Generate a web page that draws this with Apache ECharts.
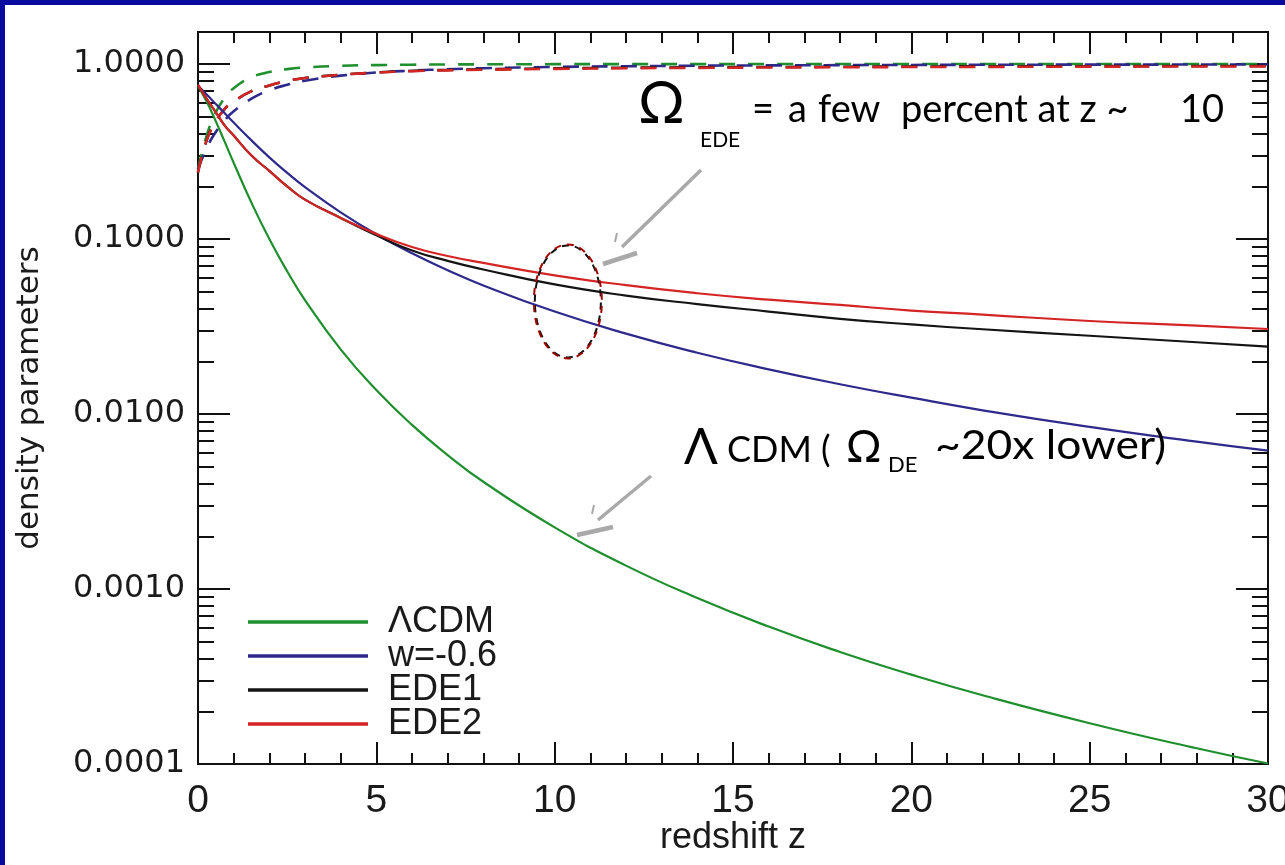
<!DOCTYPE html>
<html>
<head>
<meta charset="utf-8">
<script src="https://cdn.jsdelivr.net/npm/echarts@6/dist/echarts.min.js"></script>
<style>
  html, body { margin: 0; padding: 0; width: 1285px; height: 865px; background: #0a0a9e; overflow: hidden; }
  #panel { position: absolute; left: 5px; top: 5px; width: 1280px; height: 860px; background: #ffffff; }
  #chart { position: absolute; left: 0; top: 0; width: 1285px; height: 865px; }
</style>
</head>
<body>
<div id="panel"></div>
<div id="chart"></div>
<script>
// redshift sample points
const redshift = [0, 0.25, 0.5, 0.75, 1, 1.5, 2, 2.5, 3, 4, 5, 6, 7, 8, 10, 12, 14, 16, 18, 20, 22, 25, 28, 30];

// dark energy density parameter (solid curves)
const deLcdm = [0.75, 0.606, 0.470, 0.359, 0.273, 0.161, 0.100, 0.0654, 0.0448, 0.0234, 0.0137, 0.00867, 0.00583, 0.00410, 0.00225, 0.00136, 0.000888, 0.000610, 0.000437, 0.000324, 0.000247, 0.000171, 0.000123, 0.0001007];
const deW06 = [0.75, 0.667, 0.591, 0.523, 0.463, 0.366, 0.293, 0.239, 0.198, 0.142, 0.1065, 0.0829, 0.0664, 0.0543, 0.0385, 0.0288, 0.0224, 0.0180, 0.0148, 0.0124, 0.0105, 0.00844, 0.00695, 0.00617];
const deEde1 = [0.76, 0.63, 0.53, 0.445, 0.39, 0.30, 0.245, 0.20, 0.168, 0.132, 0.105, 0.086, 0.075, 0.067, 0.055, 0.0475, 0.0425, 0.0385, 0.035, 0.0325, 0.0305, 0.028, 0.0257, 0.0243];
const deEde2 = [0.76, 0.63, 0.53, 0.445, 0.39, 0.30, 0.245, 0.20, 0.168, 0.132, 0.107, 0.090, 0.080, 0.073, 0.062, 0.0545, 0.049, 0.045, 0.042, 0.039, 0.037, 0.034, 0.032, 0.0306];

// matter density parameter (dashed curves)
const mLcdm = [0.25, 0.394, 0.53, 0.641, 0.727, 0.839, 0.90, 0.935, 0.955, 0.977, 0.986, 0.991, 0.994, 0.996, 0.998, 0.9986, 0.9991, 0.9994, 0.9996, 0.9997, 0.9998, 0.9998, 0.9999, 0.9999];
const mW06 = [0.25, 0.333, 0.409, 0.477, 0.537, 0.634, 0.707, 0.761, 0.802, 0.858, 0.894, 0.917, 0.934, 0.946, 0.962, 0.971, 0.978, 0.982, 0.985, 0.988, 0.990, 0.992, 0.993, 0.994];
const mEde1 = [0.24, 0.37, 0.47, 0.555, 0.61, 0.70, 0.755, 0.80, 0.832, 0.868, 0.895, 0.914, 0.925, 0.933, 0.945, 0.9525, 0.9575, 0.9615, 0.965, 0.9675, 0.9695, 0.972, 0.974, 0.9757];
const mEde2 = [0.24, 0.37, 0.47, 0.555, 0.61, 0.70, 0.755, 0.80, 0.832, 0.868, 0.893, 0.910, 0.920, 0.927, 0.938, 0.946, 0.951, 0.955, 0.958, 0.961, 0.963, 0.966, 0.968, 0.969];

// legend names and colours
const modelNames = ['\u039BCDM', 'w=-0.6', 'EDE1', 'EDE2'];
const modelColors = ['#1f8f2e', '#2e2a8c', '#141414', '#d42424'];

// axis tick labels
const xTickValues = [0, 5, 10, 15, 20, 25, 30];
const yTickValues = [0.0001, 0.001, 0.01, 0.1, 1];

// where the circled region sits (redshift, density parameter)
const circledPoint = [10.37, 0.044];

const yMin = 0.0001, yMax = 1.524;

// log minor tick positions 2..9 within each decade
const yMinorTicks = [];
for (let e = -4; e <= -1; e++) {
  for (let m = 2; m <= 9; m++) yMinorTicks.push(+(m * Math.pow(10, e)).toPrecision(3));
}

function pairs(ys) { return redshift.map((z, i) => [z, ys[i]]); }

const tickFont = 'Liberation Sans, Arial, sans-serif';
const axisBlack = '#111111';

function yAxisDef(position, withLabels, ticks, len) {
  return {
    type: 'log', logBase: 10, min: yMin, max: yMax, position: position,
    gridIndex: 0,
    axisLine: { show: true, onZero: false, lineStyle: { color: axisBlack, width: 2 } },
    axisTick: { show: true, inside: true, length: len, customValues: ticks, lineStyle: { color: axisBlack, width: 2 } },
    axisLabel: withLabels ? {
      show: true, customValues: yTickValues, margin: 13,
      fontFamily: 'DejaVu Sans', fontSize: 32, color: '#1a1a1a',
      formatter: v => Number(v).toFixed(4)
    } : { show: false },
    splitLine: { show: false },
    minorTick: { show: false },
    name: withLabels && position === 'left' ? 'density parameters' : '',
    nameLocation: 'middle', nameGap: 153,
    nameTextStyle: { fontFamily: 'DejaVu Sans', fontSize: 31, color: '#1a1a1a' }
  };
}

function xAxisDef(position, withLabels) {
  return {
    type: 'value', min: 0, max: 30, interval: 5, position: position,
    axisLine: { show: true, onZero: false, lineStyle: { color: axisBlack, width: 2 } },
    axisTick: { show: true, inside: true, length: 22, lineStyle: { color: axisBlack, width: 2 } },
    minorTick: { show: true, splitNumber: 5, length: 11, lineStyle: { color: axisBlack, width: 2 } },
    axisLabel: withLabels ? { show: true, margin: 18, fontFamily: tickFont, fontSize: 39, color: '#1a1a1a' } : { show: false },
    splitLine: { show: false }, minorSplitLine: { show: false },
    name: withLabels ? 'redshift z' : '',
    nameLocation: 'middle', nameGap: 56, nameMoveOverlap: false,
    nameTextStyle: { fontFamily: tickFont, fontSize: 36, color: '#1a1a1a' }
  };
}

function solid(name, data, color) {
  return {
    name: name, type: 'line', data: pairs(data), xAxisIndex: 0, yAxisIndex: 0,
    showSymbol: false, smooth: 0.5, silent: true,
    lineStyle: { color: color, width: 2.2 }, itemStyle: { color: color }, z: 3
  };
}
function dashed(name, data, color) {
  return {
    name: name, type: 'line', data: pairs(data), xAxisIndex: 0, yAxisIndex: 0,
    showSymbol: false, smooth: 0.5, silent: true,
    lineStyle: { color: color, width: 2.6, type: [16, 13] }, itemStyle: { color: color }, z: 2
  };
}

const chart = echarts.init(document.getElementById('chart'), null, { renderer: 'canvas' });

const option = {
  animation: false,
  backgroundColor: 'transparent',
  grid: { left: 198, top: 32, right: 17, bottom: 101, outerBoundsMode: 'none', containLabel: false },
  xAxis: [xAxisDef('bottom', true), xAxisDef('top', false)],
  yAxis: [
    yAxisDef('left', true, yTickValues, 32),
    yAxisDef('left', false, yMinorTicks, 16),
    yAxisDef('right', false, yTickValues, 32),
    yAxisDef('right', false, yMinorTicks, 16)
  ],
  legend: {
    data: modelNames, orient: 'vertical', left: 248, top: 604, padding: 0,
    icon: 'rect', itemWidth: 120, itemHeight: 3.5, itemGap: -2, selectedMode: false,
    textStyle: { fontFamily: tickFont, fontSize: 36, lineHeight: 30.3, color: '#1a1a1a', padding: [0, 0, 0, 15] }
  },
  series: [
    dashed('\u03A9m \u039BCDM', mLcdm, modelColors[0]),
    dashed('\u03A9m w=-0.6', mW06, modelColors[1]),
    dashed('\u03A9m EDE1', mEde1, modelColors[2]),
    dashed('\u03A9m EDE2', mEde2, modelColors[3]),
    solid(modelNames[0], deLcdm, modelColors[0]),
    solid(modelNames[1], deW06, modelColors[1]),
    solid(modelNames[2], deEde1, modelColors[2]),
    solid(modelNames[3], deEde2, modelColors[3])
  ]
};
chart.setOption(option);

// annotations: circled region, arrows and labels
const c = chart.convertToPixel({ xAxisIndex: 0, yAxisIndex: 0 }, circledPoint);
const grey = '#a9a9a9';
const annoFont = 'Lato, "Open Sans", sans-serif';

function seg(x1, y1, x2, y2, w) {
  return { type: 'line', shape: { x1: x1, y1: y1, x2: x2, y2: y2 }, style: { stroke: grey, lineWidth: w, lineCap: 'butt' }, silent: true, z: 10 };
}
// text placed by its left edge and baseline
function txt(x, baseline, s, size, sx) {
  const scale = sx || 1;
  return {
    type: 'text', x: x, y: baseline - size * 0.33, scaleX: scale, originX: 0,
    style: { text: s, font: size + 'px ' + annoFont, fill: '#000', align: 'left', verticalAlign: 'middle' },
    silent: true, z: 10
  };
}

chart.setOption({
  graphic: [
    { type: 'ellipse', shape: { cx: c[0], cy: c[1], rx: 33, ry: 56 }, style: { fill: 'none', stroke: '#111', lineWidth: 2, lineDash: [7, 6] }, silent: true, z: 9 },
    { type: 'ellipse', shape: { cx: c[0], cy: c[1], rx: 34, ry: 57 }, style: { fill: 'none', stroke: '#a00000', lineWidth: 2, lineDash: [7, 6], lineDashOffset: 6.5 }, silent: true, z: 9 },
    // upper arrow
    seg(701, 170, 622, 247, 3.5),
    seg(603, 264, 637, 253, 4.5),
    seg(617, 233, 615, 242, 2),
    // lower arrow
    seg(651, 476, 598, 520, 3.5),
    seg(577, 535, 613, 527, 4.5),
    seg(594, 505, 592, 514, 2),
    // upper label
    txt(638, 123, '\u03A9', 58),
    txt(700, 147, 'EDE', 21),
    txt(752, 122, '=', 38),
    txt(788, 122, 'a', 38),
    txt(818, 122, 'few', 38),
    txt(901, 122, 'percent at z ~', 38),
    txt(1180, 122, '10', 38),
    // lower label
    txt(684, 464, '\u039B', 50),
    txt(727, 462, 'CDM (', 36),
    txt(846, 462, '\u03A9', 44),
    txt(888, 472, 'DE', 22),
    txt(935, 459, '~20x lower)', 40, 1.11)
  ]
});
</script>
</body>
</html>
